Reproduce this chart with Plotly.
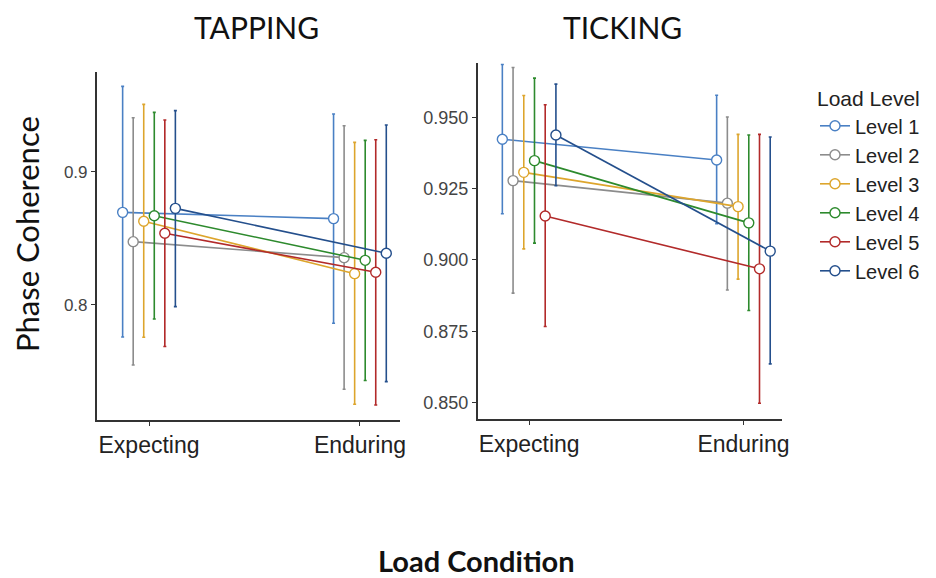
import plotly.graph_objects as go

W, H = 936, 578

categories = ["Expecting", "Enduring"]
levels = ["Level 1", "Level 2", "Level 3", "Level 4", "Level 5", "Level 6"]
colors = ["#4a80c4", "#8c8c8c", "#dda52c", "#2d8a2d", "#b22a2a", "#244f8c"]

# TAPPING: means, upper and lower error limits [Expecting, Enduring]
tap_mean = [[0.8695, 0.8648], [0.8475, 0.8355], [0.8628, 0.8235],
            [0.8670, 0.8335], [0.8538, 0.8245], [0.8725, 0.8388]]
tap_hi = [[0.9640, 0.9433], [0.9405, 0.9345], [0.9505, 0.9220],
          [0.9445, 0.9235], [0.9388, 0.9240], [0.9458, 0.9350]]
tap_lo = [[0.7760, 0.7863], [0.7550, 0.7368], [0.7758, 0.7255],
          [0.7895, 0.7433], [0.7688, 0.7250], [0.7988, 0.7425]]

# TICKING
tick_mean = [[0.9423, 0.9350], [0.9278, 0.9199], [0.9307, 0.9187],
             [0.9348, 0.9130], [0.9154, 0.8969], [0.9438, 0.9031]]
tick_hi = [[0.9685, 0.9577], [0.9674, 0.9501], [0.9576, 0.9440],
           [0.9637, 0.9438], [0.9544, 0.9440], [0.9616, 0.9431]]
tick_lo = [[0.9162, 0.9127], [0.8884, 0.8895], [0.9039, 0.8933],
           [0.9059, 0.8823], [0.8767, 0.8498], [0.9260, 0.8636]]

dodge = 0.05
fig = go.Figure()

def add_panel(mean, hi, lo, xa, ya, showlegend):
    n = len(levels)
    for i, lev in enumerate(levels):
        xs = [c + 1 + (i - (n - 1) / 2) * dodge for c in range(len(categories))]
        m = mean[i]
        fig.add_trace(go.Scatter(
            x=xs, y=m, xaxis=xa, yaxis=ya, mode="lines+markers",
            name=lev, showlegend=showlegend,
            line=dict(color=colors[i], width=1.6),
            marker=dict(symbol="circle", size=10, color="white",
                        line=dict(color=colors[i], width=1.4)),
            error_y=dict(type="data", symmetric=False,
                         array=[h - v for h, v in zip(hi[i], m)],
                         arrayminus=[v - l for l, v in zip(lo[i], m)],
                         color=colors[i], thickness=1.6, width=1.5),
        ))

add_panel(tap_mean, tap_hi, tap_lo, "x", "y", True)
add_panel(tick_mean, tick_hi, tick_lo, "x2", "y2", False)

def px_x(p):
    return p / W

def px_y(p):
    return 1 - p / H

axis_common = dict(showline=True, linecolor="#333333", linewidth=1.5,
                   ticks="outside", ticklen=4, tickcolor="#333333",
                   showgrid=False, zeroline=False, automargin=False)

def label(text, x, y, size, angle=0):
    return dict(text=text, x=px_x(x), y=px_y(y), xref="paper", yref="paper",
                xanchor="center", yanchor="middle", textangle=angle,
                showarrow=False,
                font=dict(family="Lato, sans-serif", size=size, color="#111111"))

fig.update_layout(
    width=W, height=H,
    margin=dict(l=0, r=0, t=0, b=0, autoexpand=False),
    paper_bgcolor="white", plot_bgcolor="white",
    font=dict(family="Liberation Sans, Arial, sans-serif", color="#222222"),
    xaxis=dict(domain=[px_x(96.7), px_x(400)], range=[0.752, 2.19],
               tickvals=[1, 2], ticktext=categories, anchor="y",
               tickfont=dict(size=23, color="#222222"), **axis_common),
    yaxis=dict(domain=[px_y(420), px_y(72)], range=[0.7137, 0.9748],
               tickvals=[0.8, 0.9], ticktext=["0.8", "0.9"], anchor="x",
               tickfont=dict(size=17, color="#444444"), **axis_common),
    xaxis2=dict(domain=[px_x(477.7), px_x(782)], range=[0.76, 2.18],
                tickvals=[1, 2], ticktext=categories, anchor="y2",
                tickfont=dict(size=23, color="#222222"), **axis_common),
    yaxis2=dict(domain=[px_y(419), px_y(63)], range=[0.8443, 0.969],
                tickvals=[0.85, 0.875, 0.9, 0.925, 0.95], tickformat=".3f",
                anchor="x2", tickfont=dict(size=18, color="#444444"), **axis_common),
    legend=dict(x=px_x(815), y=px_y(79), xanchor="left", yanchor="top",
                title=dict(text="Load Level", font=dict(size=21, color="#222222")),
                font=dict(size=20, color="#222222"), bgcolor="rgba(0,0,0,0)",
                itemwidth=30, tracegroupgap=0),
    annotations=[
        label("TAPPING", 256, 27, 30),
        label("TICKING", 622, 27, 30),
        label("Phase Coherence", 27, 234, 31, -90),
        label("<b>Load Condition</b>", 477, 560, 29),
    ],
)

fig.write_html("out.html", config={"displayModeBar": False},
               post_script="document.body.style.margin='0';")
